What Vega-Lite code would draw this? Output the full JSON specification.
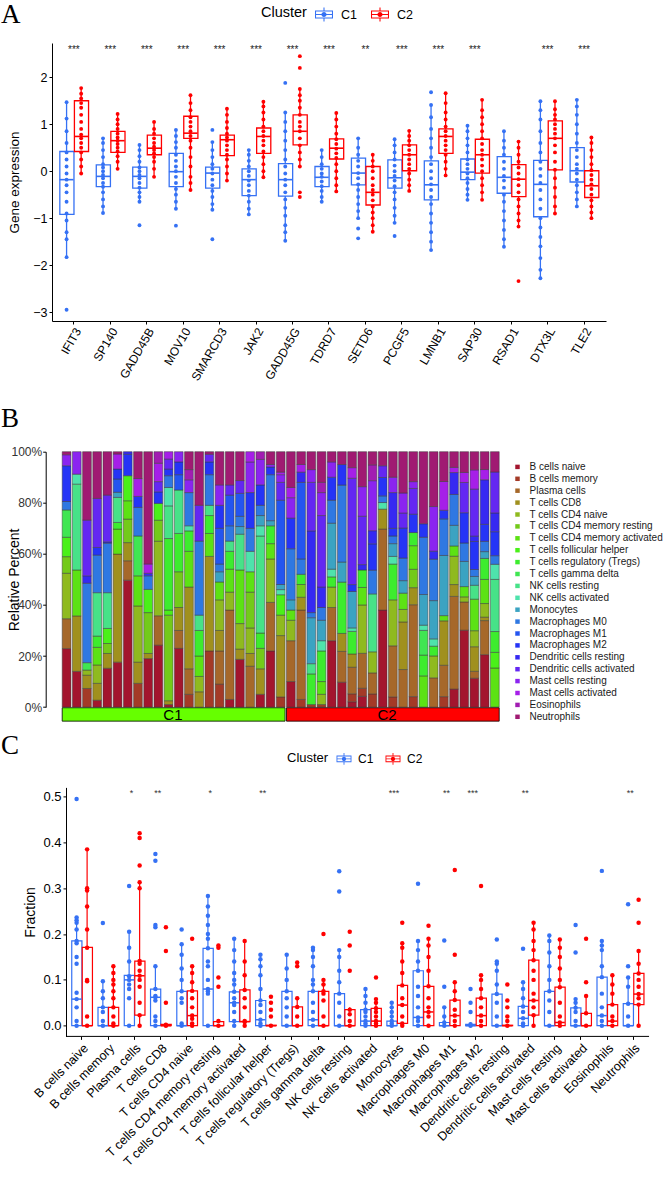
{
"$schema": "https://vega.github.io/schema/vega-lite/v6.json",
"padding": {"left": 1, "top": 1, "right": 0, "bottom": 0},
"background": "white",
"config": {
  "font": "Liberation Sans",
  "view": {"stroke": null},
  "axis": {"grid": false, "domainColor": "#000", "domainWidth": 1, "tickColor": "#000", "tickWidth": 1, "labelColor": "#000", "titleColor": "#000", "titleFontWeight": "normal", "labelFont": "Liberation Sans", "titleFont": "Liberation Sans"},
  "legend": {"labelFont": "Liberation Sans", "titleFont": "Liberation Sans", "titleFontWeight": "normal", "labelColor": "#000", "titleColor": "#000"},
  "title": {"font": "Liberation Serif", "fontSize": 27, "fontWeight": "normal", "anchor": "start", "frame": "group", "color": "#000", "offset": 0}
},
"datasets": {
  "cells": [{"k":1,"Cell":"B cells naive"},{"k":2,"Cell":"B cells memory"},{"k":3,"Cell":"Plasma cells"},{"k":4,"Cell":"T cells CD8"},{"k":5,"Cell":"T cells CD4 naive"},{"k":6,"Cell":"T cells CD4 memory resting"},{"k":7,"Cell":"T cells CD4 memory activated"},{"k":8,"Cell":"T cells follicular helper"},{"k":9,"Cell":"T cells regulatory (Tregs)"},{"k":10,"Cell":"T cells gamma delta"},{"k":11,"Cell":"NK cells resting"},{"k":12,"Cell":"NK cells activated"},{"k":13,"Cell":"Monocytes"},{"k":14,"Cell":"Macrophages M0"},{"k":15,"Cell":"Macrophages M1"},{"k":16,"Cell":"Macrophages M2"},{"k":17,"Cell":"Dendritic cells resting"},{"k":18,"Cell":"Dendritic cells activated"},{"k":19,"Cell":"Mast cells resting"},{"k":20,"Cell":"Mast cells activated"},{"k":21,"Cell":"Eosinophils"},{"k":22,"Cell":"Neutrophils"}],
  "grp": [{"Cluster":"C1","first":"S01","last":"S22","mid":"S11"},{"Cluster":"C2","first":"S23","last":"S43","mid":"S32"}],
  "axisC": [{"from":"B cells naive","to":"Neutrophils"}],
  "comp": [
{"s":"S01","k":1,"v":22.9},{"s":"S01","k":3,"v":11.7},{"s":"S01","k":5,"v":17.8},{"s":"S01","k":6,"v":6.5},{"s":"S01","k":8,"v":7.6},{"s":"S01","k":10,"v":10.7},{"s":"S01","k":14,"v":3.3},{"s":"S01","k":16,"v":14},{"s":"S01","k":19,"v":4.3},{"s":"S01","k":22,"v":1.2},
{"s":"S02","k":1,"v":14},{"s":"S02","k":4,"v":21.7},{"s":"S02","k":7,"v":18},{"s":"S02","k":11,"v":33.6},{"s":"S02","k":12,"v":3.9},{"s":"S02","k":19,"v":8.8},
{"s":"S03","k":2,"v":7.3},{"s":"S03","k":4,"v":5.2},{"s":"S03","k":5,"v":2},{"s":"S03","k":10,"v":2.9},{"s":"S03","k":14,"v":31.1},{"s":"S03","k":17,"v":2.9},{"s":"S03","k":18,"v":21.8},{"s":"S03","k":22,"v":26.8},
{"s":"S04","k":1,"v":2.7},{"s":"S04","k":4,"v":6.6},{"s":"S04","k":5,"v":7.2},{"s":"S04","k":7,"v":6.9},{"s":"S04","k":9,"v":4.4},{"s":"S04","k":11,"v":17},{"s":"S04","k":14,"v":14.7},{"s":"S04","k":16,"v":3},{"s":"S04","k":18,"v":19.2},{"s":"S04","k":22,"v":18.3},
{"s":"S05","k":1,"v":15.2},{"s":"S05","k":4,"v":5.8},{"s":"S05","k":6,"v":3.9},{"s":"S05","k":8,"v":5.9},{"s":"S05","k":11,"v":14},{"s":"S05","k":14,"v":19.4},{"s":"S05","k":17,"v":0.5},{"s":"S05","k":18,"v":18.3},{"s":"S05","k":22,"v":17},
{"s":"S06","k":1,"v":17.6},{"s":"S06","k":4,"v":42.3},{"s":"S06","k":7,"v":9.8},{"s":"S06","k":9,"v":2.6},{"s":"S06","k":11,"v":9.8},{"s":"S06","k":13,"v":2},{"s":"S06","k":15,"v":5.2},{"s":"S06","k":16,"v":3.9},{"s":"S06","k":20,"v":5.9},{"s":"S06","k":22,"v":0.9},
{"s":"S07","k":1,"v":49.7},{"s":"S07","k":3,"v":7.6},{"s":"S07","k":4,"v":7.1},{"s":"S07","k":6,"v":9.2},{"s":"S07","k":7,"v":7.2},{"s":"S07","k":8,"v":9.8},{"s":"S07","k":16,"v":8.4},{"s":"S07","k":17,"v":1},
{"s":"S08","k":2,"v":9.3},{"s":"S08","k":4,"v":8.3},{"s":"S08","k":5,"v":22},{"s":"S08","k":7,"v":11.8},{"s":"S08","k":10,"v":15.6},{"s":"S08","k":14,"v":11.2},{"s":"S08","k":16,"v":4.3},{"s":"S08","k":20,"v":7},{"s":"S08","k":22,"v":10.5},
{"s":"S09","k":1,"v":19},{"s":"S09","k":4,"v":2},{"s":"S09","k":6,"v":16},{"s":"S09","k":8,"v":9.1},{"s":"S09","k":14,"v":5.3},{"s":"S09","k":17,"v":1},{"s":"S09","k":20,"v":3.6},{"s":"S09","k":22,"v":44},
{"s":"S10","k":1,"v":23.6},{"s":"S10","k":3,"v":11.2},{"s":"S10","k":5,"v":28.4},{"s":"S10","k":6,"v":8},{"s":"S10","k":8,"v":6.4},{"s":"S10","k":16,"v":4.4},{"s":"S10","k":18,"v":3.9},{"s":"S10","k":20,"v":7},{"s":"S10","k":21,"v":4.4},
{"s":"S11","k":1,"v":1},{"s":"S11","k":4,"v":1.5},{"s":"S11","k":6,"v":33.5},{"s":"S11","k":8,"v":2},{"s":"S11","k":9,"v":28},{"s":"S11","k":11,"v":12.8},{"s":"S11","k":12,"v":7.2},{"s":"S11","k":14,"v":4.6},{"s":"S11","k":16,"v":2.6},{"s":"S11","k":18,"v":3.9},{"s":"S11","k":20,"v":2.9},
{"s":"S12","k":1,"v":23},{"s":"S12","k":3,"v":7},{"s":"S12","k":4,"v":9},{"s":"S12","k":6,"v":14},{"s":"S12","k":9,"v":15},{"s":"S12","k":11,"v":17},{"s":"S12","k":15,"v":6},{"s":"S12","k":16,"v":5},{"s":"S12","k":19,"v":4},
{"s":"S13","k":2,"v":5},{"s":"S13","k":3,"v":10},{"s":"S13","k":4,"v":32},{"s":"S13","k":7,"v":14},{"s":"S13","k":9,"v":8},{"s":"S13","k":12,"v":2},{"s":"S13","k":14,"v":13},{"s":"S13","k":19,"v":5},{"s":"S13","k":21,"v":4},{"s":"S13","k":22,"v":7},
{"s":"S14","k":4,"v":6},{"s":"S14","k":5,"v":6},{"s":"S14","k":7,"v":8},{"s":"S14","k":9,"v":10},{"s":"S14","k":11,"v":6},{"s":"S14","k":14,"v":29},{"s":"S14","k":18,"v":14},{"s":"S14","k":22,"v":21},
{"s":"S15","k":2,"v":22},{"s":"S15","k":4,"v":37},{"s":"S15","k":7,"v":9},{"s":"S15","k":9,"v":7},{"s":"S15","k":11,"v":4},{"s":"S15","k":14,"v":12},{"s":"S15","k":16,"v":5},{"s":"S15","k":18,"v":3},{"s":"S15","k":22,"v":1},
{"s":"S16","k":2,"v":9},{"s":"S16","k":3,"v":13},{"s":"S16","k":4,"v":8},{"s":"S16","k":5,"v":12},{"s":"S16","k":7,"v":7},{"s":"S16","k":13,"v":4},{"s":"S16","k":14,"v":3},{"s":"S16","k":15,"v":14},{"s":"S16","k":16,"v":9},{"s":"S16","k":19,"v":8},{"s":"S16","k":22,"v":13},
{"s":"S17","k":1,"v":3},{"s":"S17","k":3,"v":35},{"s":"S17","k":5,"v":7},{"s":"S17","k":7,"v":9},{"s":"S17","k":9,"v":7},{"s":"S17","k":11,"v":4},{"s":"S17","k":14,"v":6},{"s":"S17","k":15,"v":12},{"s":"S17","k":18,"v":4},{"s":"S17","k":22,"v":13},
{"s":"S18","k":1,"v":18.7},{"s":"S18","k":4,"v":4},{"s":"S18","k":5,"v":10},{"s":"S18","k":7,"v":21},{"s":"S18","k":11,"v":14},{"s":"S18","k":13,"v":3},{"s":"S18","k":14,"v":4},{"s":"S18","k":15,"v":9},{"s":"S18","k":18,"v":5},{"s":"S18","k":22,"v":11.3},
{"s":"S19","k":3,"v":16},{"s":"S19","k":4,"v":5},{"s":"S19","k":5,"v":10},{"s":"S19","k":6,"v":14},{"s":"S19","k":7,"v":8},{"s":"S19","k":12,"v":8},{"s":"S19","k":14,"v":9},{"s":"S19","k":16,"v":14},{"s":"S19","k":19,"v":12},{"s":"S19","k":20,"v":4},
{"s":"S20","k":1,"v":5},{"s":"S20","k":4,"v":10},{"s":"S20","k":6,"v":8},{"s":"S20","k":9,"v":6},{"s":"S20","k":11,"v":38},{"s":"S20","k":12,"v":4},{"s":"S20","k":13,"v":4},{"s":"S20","k":14,"v":4},{"s":"S20","k":16,"v":8},{"s":"S20","k":19,"v":10},{"s":"S20","k":21,"v":3},
{"s":"S21","k":1,"v":22},{"s":"S21","k":3,"v":19},{"s":"S21","k":5,"v":17},{"s":"S21","k":7,"v":6},{"s":"S21","k":9,"v":7},{"s":"S21","k":13,"v":2},{"s":"S21","k":14,"v":18},{"s":"S21","k":16,"v":3},{"s":"S21","k":19,"v":1},{"s":"S21","k":22,"v":5},
{"s":"S22","k":2,"v":4},{"s":"S22","k":4,"v":24},{"s":"S22","k":5,"v":8},{"s":"S22","k":8,"v":8},{"s":"S22","k":12,"v":2},{"s":"S22","k":13,"v":2},{"s":"S22","k":15,"v":33},{"s":"S22","k":18,"v":7},{"s":"S22","k":19,"v":3},{"s":"S22","k":20,"v":1},{"s":"S22","k":22,"v":8},
{"s":"S23","k":1,"v":10},{"s":"S23","k":3,"v":16},{"s":"S23","k":5,"v":8},{"s":"S23","k":7,"v":4},{"s":"S23","k":13,"v":4},{"s":"S23","k":14,"v":20},{"s":"S23","k":16,"v":12},{"s":"S23","k":19,"v":8},{"s":"S23","k":20,"v":4},{"s":"S23","k":22,"v":14},
{"s":"S24","k":2,"v":3},{"s":"S24","k":3,"v":35},{"s":"S24","k":4,"v":5},{"s":"S24","k":6,"v":5},{"s":"S24","k":9,"v":4},{"s":"S24","k":14,"v":6},{"s":"S24","k":15,"v":30},{"s":"S24","k":17,"v":4},{"s":"S24","k":20,"v":3},{"s":"S24","k":22,"v":5},
{"s":"S25","k":2,"v":1},{"s":"S25","k":9,"v":12},{"s":"S25","k":11,"v":4},{"s":"S25","k":13,"v":18},{"s":"S25","k":14,"v":2},{"s":"S25","k":17,"v":32},{"s":"S25","k":18,"v":19},{"s":"S25","k":19,"v":5},{"s":"S25","k":22,"v":7},
{"s":"S26","k":2,"v":1},{"s":"S26","k":5,"v":4},{"s":"S26","k":7,"v":5},{"s":"S26","k":9,"v":12},{"s":"S26","k":12,"v":4},{"s":"S26","k":13,"v":8},{"s":"S26","k":14,"v":5},{"s":"S26","k":17,"v":8},{"s":"S26","k":18,"v":28},{"s":"S26","k":19,"v":9},{"s":"S26","k":21,"v":4},{"s":"S26","k":22,"v":12},
{"s":"S27","k":1,"v":26},{"s":"S27","k":3,"v":13},{"s":"S27","k":5,"v":8},{"s":"S27","k":9,"v":4},{"s":"S27","k":12,"v":3},{"s":"S27","k":13,"v":18},{"s":"S27","k":14,"v":9},{"s":"S27","k":16,"v":9},{"s":"S27","k":19,"v":6},{"s":"S27","k":22,"v":4},
{"s":"S28","k":1,"v":9.7},{"s":"S28","k":3,"v":12},{"s":"S28","k":4,"v":7},{"s":"S28","k":9,"v":20},{"s":"S28","k":13,"v":7.8},{"s":"S28","k":14,"v":30},{"s":"S28","k":16,"v":8},{"s":"S28","k":22,"v":5},
{"s":"S29","k":1,"v":2},{"s":"S29","k":2,"v":3},{"s":"S29","k":3,"v":10},{"s":"S29","k":4,"v":5},{"s":"S29","k":9,"v":8.5},{"s":"S29","k":12,"v":1.3},{"s":"S29","k":13,"v":13.7},{"s":"S29","k":16,"v":2.6},{"s":"S29","k":18,"v":40},{"s":"S29","k":20,"v":4},{"s":"S29","k":22,"v":6},
{"s":"S30","k":1,"v":4},{"s":"S30","k":2,"v":3},{"s":"S30","k":3,"v":13},{"s":"S30","k":5,"v":18},{"s":"S30","k":7,"v":6.5},{"s":"S30","k":9,"v":6.5},{"s":"S30","k":17,"v":2},{"s":"S30","k":18,"v":18},{"s":"S30","k":19,"v":11},{"s":"S30","k":22,"v":13},
{"s":"S31","k":2,"v":5},{"s":"S31","k":3,"v":8},{"s":"S31","k":5,"v":8},{"s":"S31","k":11,"v":22},{"s":"S31","k":14,"v":9},{"s":"S31","k":16,"v":10},{"s":"S31","k":17,"v":5},{"s":"S31","k":19,"v":19},{"s":"S31","k":21,"v":6},{"s":"S31","k":22,"v":5},
{"s":"S32","k":1,"v":38},{"s":"S32","k":3,"v":31.7},{"s":"S32","k":4,"v":7.8},{"s":"S32","k":12,"v":2.6},{"s":"S32","k":14,"v":2.6},{"s":"S32","k":16,"v":7.2},{"s":"S32","k":18,"v":4.6},{"s":"S32","k":22,"v":5.5},
{"s":"S33","k":2,"v":4},{"s":"S33","k":3,"v":20},{"s":"S33","k":5,"v":18},{"s":"S33","k":9,"v":14},{"s":"S33","k":12,"v":3},{"s":"S33","k":13,"v":5},{"s":"S33","k":14,"v":3},{"s":"S33","k":16,"v":3},{"s":"S33","k":17,"v":14},{"s":"S33","k":19,"v":6},{"s":"S33","k":22,"v":10},
{"s":"S34","k":3,"v":15},{"s":"S34","k":4,"v":19},{"s":"S34","k":5,"v":5},{"s":"S34","k":7,"v":6.5},{"s":"S34","k":13,"v":5},{"s":"S34","k":14,"v":9},{"s":"S34","k":16,"v":12},{"s":"S34","k":18,"v":6},{"s":"S34","k":19,"v":8},{"s":"S34","k":22,"v":16.5},
{"s":"S35","k":2,"v":4},{"s":"S35","k":3,"v":35},{"s":"S35","k":4,"v":6.5},{"s":"S35","k":6,"v":7},{"s":"S35","k":7,"v":9},{"s":"S35","k":9,"v":5},{"s":"S35","k":16,"v":7},{"s":"S35","k":18,"v":9.8},{"s":"S35","k":19,"v":2.6},{"s":"S35","k":22,"v":11.4},
{"s":"S36","k":7,"v":12},{"s":"S36","k":9,"v":8},{"s":"S36","k":10,"v":9.5},{"s":"S36","k":12,"v":2},{"s":"S36","k":13,"v":11.8},{"s":"S36","k":14,"v":22},{"s":"S36","k":16,"v":5.2},{"s":"S36","k":22,"v":27.7},
{"s":"S37","k":3,"v":12},{"s":"S37","k":5,"v":9},{"s":"S37","k":9,"v":4},{"s":"S37","k":12,"v":3},{"s":"S37","k":13,"v":15.7},{"s":"S37","k":14,"v":17},{"s":"S37","k":17,"v":3.3},{"s":"S37","k":19,"v":18.3},{"s":"S37","k":22,"v":22.5},
{"s":"S38","k":2,"v":4},{"s":"S38","k":3,"v":12},{"s":"S38","k":4,"v":17},{"s":"S38","k":7,"v":2},{"s":"S38","k":13,"v":23},{"s":"S38","k":14,"v":14},{"s":"S38","k":16,"v":3.3},{"s":"S38","k":20,"v":11},{"s":"S38","k":22,"v":11.4},
{"s":"S39","k":1,"v":7},{"s":"S39","k":3,"v":36},{"s":"S39","k":4,"v":4.6},{"s":"S39","k":5,"v":11},{"s":"S39","k":7,"v":4},{"s":"S39","k":13,"v":8},{"s":"S39","k":14,"v":12},{"s":"S39","k":17,"v":8.5},{"s":"S39","k":20,"v":2},{"s":"S39","k":22,"v":6.1},
{"s":"S40","k":1,"v":30},{"s":"S40","k":3,"v":11},{"s":"S40","k":5,"v":2},{"s":"S40","k":7,"v":4},{"s":"S40","k":13,"v":9.8},{"s":"S40","k":14,"v":7.2},{"s":"S40","k":16,"v":11.8},{"s":"S40","k":18,"v":11.8},{"s":"S40","k":20,"v":3.9},{"s":"S40","k":22,"v":8.1},
{"s":"S41","k":1,"v":10.8},{"s":"S41","k":3,"v":2.6},{"s":"S41","k":4,"v":9.2},{"s":"S41","k":5,"v":6},{"s":"S41","k":7,"v":11.8},{"s":"S41","k":11,"v":5.2},{"s":"S41","k":13,"v":3.3},{"s":"S41","k":14,"v":2.6},{"s":"S41","k":16,"v":10.5},{"s":"S41","k":17,"v":2},{"s":"S41","k":18,"v":17.6},{"s":"S41","k":20,"v":7.2},{"s":"S41","k":22,"v":6.8},
{"s":"S42","k":1,"v":20},{"s":"S42","k":3,"v":13},{"s":"S42","k":4,"v":1.3},{"s":"S42","k":5,"v":5.2},{"s":"S42","k":7,"v":9.2},{"s":"S42","k":9,"v":8},{"s":"S42","k":13,"v":2.6},{"s":"S42","k":14,"v":3.9},{"s":"S42","k":16,"v":6.5},{"s":"S42","k":17,"v":17},{"s":"S42","k":20,"v":3.9},{"s":"S42","k":22,"v":6.8},
{"s":"S43","k":7,"v":15},{"s":"S43","k":8,"v":6},{"s":"S43","k":9,"v":8},{"s":"S43","k":11,"v":20},{"s":"S43","k":12,"v":5.8},{"s":"S43","k":14,"v":3.3},{"s":"S43","k":16,"v":9.2},{"s":"S43","k":17,"v":7.2},{"s":"S43","k":18,"v":15.7},{"s":"S43","k":22,"v":7.8}
  ],
  "boxA": [
{"g":"IFIT3","c":"C1","lo":-1.83,"q1":-0.92,"md":-0.18,"q3":0.42,"hi":1.47},{"g":"IFIT3","c":"C2","lo":-0.05,"q1":0.42,"md":0.74,"q3":1.5,"hi":1.77},
{"g":"SP140","c":"C1","lo":-0.89,"q1":-0.33,"md":-0.11,"q3":0.135,"hi":0.7},{"g":"SP140","c":"C2","lo":0.05,"q1":0.4,"md":0.65,"q3":0.85,"hi":1.22},
{"g":"GADD45B","c":"C1","lo":-0.65,"q1":-0.36,"md":-0.11,"q3":0.085,"hi":0.56},{"g":"GADD45B","c":"C2","lo":-0.12,"q1":0.35,"md":0.49,"q3":0.77,"hi":1.05},
{"g":"MOV10","c":"C1","lo":-0.8,"q1":-0.33,"md":-0.01,"q3":0.38,"hi":0.88},{"g":"MOV10","c":"C2","lo":-0.4,"q1":0.7,"md":0.81,"q3":1.17,"hi":1.62},
{"g":"SMARCD3","c":"C1","lo":-0.82,"q1":-0.36,"md":-0.04,"q3":0.085,"hi":0.62},{"g":"SMARCD3","c":"C2","lo":-0.2,"q1":0.33,"md":0.67,"q3":0.77,"hi":1.33},
{"g":"JAK2","c":"C1","lo":-0.92,"q1":-0.52,"md":-0.18,"q3":0.05,"hi":0.45},{"g":"JAK2","c":"C2","lo":-0.13,"q1":0.38,"md":0.74,"q3":0.92,"hi":1.48},
{"g":"GADD45G","c":"C1","lo":-1.48,"q1":-0.53,"md":-0.18,"q3":0.16,"hi":1.25},{"g":"GADD45G","c":"C2","lo":0.1,"q1":0.56,"md":0.85,"q3":1.2,"hi":1.75},
{"g":"TDRD7","c":"C1","lo":-0.65,"q1":-0.33,"md":-0.13,"q3":0.1,"hi":0.45},{"g":"TDRD7","c":"C2","lo":-0.43,"q1":0.26,"md":0.49,"q3":0.69,"hi":1.24},
{"g":"SETD6","c":"C1","lo":-1.0,"q1":-0.29,"md":-0.04,"q3":0.28,"hi":0.7},{"g":"SETD6","c":"C2","lo":-1.29,"q1":-0.72,"md":-0.45,"q3":0.1,"hi":0.35},
{"g":"PCGF5","c":"C1","lo":-1.1,"q1":-0.36,"md":-0.14,"q3":0.24,"hi":0.68},{"g":"PCGF5","c":"C2","lo":-0.42,"q1":0.01,"md":0.35,"q3":0.56,"hi":0.86},
{"g":"LMNB1","c":"C1","lo":-1.68,"q1":-0.61,"md":-0.29,"q3":0.22,"hi":1.41},{"g":"LMNB1","c":"C2","lo":-0.09,"q1":0.38,"md":0.74,"q3":0.9,"hi":1.66},
{"g":"SAP30","c":"C1","lo":-0.61,"q1":-0.18,"md":-0.02,"q3":0.26,"hi":0.97},{"g":"SAP30","c":"C2","lo":-0.61,"q1":-0.04,"md":0.35,"q3":0.68,"hi":1.52},
{"g":"RSAD1","c":"C1","lo":-1.61,"q1":-0.47,"md":-0.13,"q3":0.31,"hi":0.85},{"g":"RSAD1","c":"C2","lo":-1.18,"q1":-0.54,"md":-0.17,"q3":0.14,"hi":0.63},
{"g":"DTX3L","c":"C1","lo":-2.28,"q1":-0.97,"md":-0.28,"q3":0.23,"hi":1.49},{"g":"DTX3L","c":"C2","lo":-0.9,"q1":0.03,"md":0.7,"q3":1.07,"hi":1.49},
{"g":"TLE2","c":"C1","lo":-0.75,"q1":-0.23,"md":0.01,"q3":0.5,"hi":1.52},{"g":"TLE2","c":"C2","lo":-1.0,"q1":-0.56,"md":-0.31,"q3":0.01,"hi":0.72}
  ],
  "starA": [{"g":"IFIT3","s":"***"},{"g":"SP140","s":"***"},{"g":"GADD45B","s":"***"},{"g":"MOV10","s":"***"},{"g":"SMARCD3","s":"***"},{"g":"JAK2","s":"***"},{"g":"GADD45G","s":"***"},{"g":"TDRD7","s":"***"},{"g":"SETD6","s":"**"},{"g":"PCGF5","s":"***"},{"g":"LMNB1","s":"***"},{"g":"SAP30","s":"***"},{"g":"DTX3L","s":"***"},{"g":"TLE2","s":"***"}],
  "ptsA": [
{"g":"IFIT3","c":"C1","v":-2.95},{"g":"IFIT3","c":"C1","v":-1.83},{"g":"IFIT3","c":"C1","v":-1.45},{"g":"IFIT3","c":"C1","v":-1.3},{"g":"IFIT3","c":"C1","v":-1.05},{"g":"IFIT3","c":"C1","v":-0.9},{"g":"IFIT3","c":"C1","v":-0.65},{"g":"IFIT3","c":"C1","v":-0.45},{"g":"IFIT3","c":"C1","v":-0.3},{"g":"IFIT3","c":"C1","v":-0.18},{"g":"IFIT3","c":"C1","v":-0.05},{"g":"IFIT3","c":"C1","v":0.1},{"g":"IFIT3","c":"C1","v":0.25},{"g":"IFIT3","c":"C1","v":0.4},{"g":"IFIT3","c":"C1","v":0.6},{"g":"IFIT3","c":"C1","v":0.85},{"g":"IFIT3","c":"C1","v":1.12},{"g":"IFIT3","c":"C1","v":1.47},
{"g":"IFIT3","c":"C2","v":-0.05},{"g":"IFIT3","c":"C2","v":0.1},{"g":"IFIT3","c":"C2","v":0.25},{"g":"IFIT3","c":"C2","v":0.4},{"g":"IFIT3","c":"C2","v":0.5},{"g":"IFIT3","c":"C2","v":0.6},{"g":"IFIT3","c":"C2","v":0.7},{"g":"IFIT3","c":"C2","v":0.78},{"g":"IFIT3","c":"C2","v":0.9},{"g":"IFIT3","c":"C2","v":1.05},{"g":"IFIT3","c":"C2","v":1.2},{"g":"IFIT3","c":"C2","v":1.35},{"g":"IFIT3","c":"C2","v":1.45},{"g":"IFIT3","c":"C2","v":1.55},{"g":"IFIT3","c":"C2","v":1.65},{"g":"IFIT3","c":"C2","v":1.77},
{"g":"SP140","c":"C1","v":-0.89},{"g":"SP140","c":"C1","v":-0.75},{"g":"SP140","c":"C1","v":-0.6},{"g":"SP140","c":"C1","v":-0.45},{"g":"SP140","c":"C1","v":-0.33},{"g":"SP140","c":"C1","v":-0.25},{"g":"SP140","c":"C1","v":-0.15},{"g":"SP140","c":"C1","v":-0.08},{"g":"SP140","c":"C1","v":0},{"g":"SP140","c":"C1","v":0.08},{"g":"SP140","c":"C1","v":0.15},{"g":"SP140","c":"C1","v":0.3},{"g":"SP140","c":"C1","v":0.45},{"g":"SP140","c":"C1","v":0.6},{"g":"SP140","c":"C1","v":0.7},
{"g":"SP140","c":"C2","v":0.05},{"g":"SP140","c":"C2","v":0.2},{"g":"SP140","c":"C2","v":0.32},{"g":"SP140","c":"C2","v":0.42},{"g":"SP140","c":"C2","v":0.5},{"g":"SP140","c":"C2","v":0.58},{"g":"SP140","c":"C2","v":0.65},{"g":"SP140","c":"C2","v":0.72},{"g":"SP140","c":"C2","v":0.8},{"g":"SP140","c":"C2","v":0.9},{"g":"SP140","c":"C2","v":1.0},{"g":"SP140","c":"C2","v":1.1},{"g":"SP140","c":"C2","v":1.22},
{"g":"GADD45B","c":"C1","v":-1.15},{"g":"GADD45B","c":"C1","v":-0.65},{"g":"GADD45B","c":"C1","v":-0.55},{"g":"GADD45B","c":"C1","v":-0.45},{"g":"GADD45B","c":"C1","v":-0.35},{"g":"GADD45B","c":"C1","v":-0.25},{"g":"GADD45B","c":"C1","v":-0.15},{"g":"GADD45B","c":"C1","v":-0.08},{"g":"GADD45B","c":"C1","v":0},{"g":"GADD45B","c":"C1","v":0.08},{"g":"GADD45B","c":"C1","v":0.2},{"g":"GADD45B","c":"C1","v":0.32},{"g":"GADD45B","c":"C1","v":0.45},{"g":"GADD45B","c":"C1","v":0.56},
{"g":"GADD45B","c":"C2","v":-0.12},{"g":"GADD45B","c":"C2","v":0.05},{"g":"GADD45B","c":"C2","v":0.2},{"g":"GADD45B","c":"C2","v":0.3},{"g":"GADD45B","c":"C2","v":0.38},{"g":"GADD45B","c":"C2","v":0.45},{"g":"GADD45B","c":"C2","v":0.52},{"g":"GADD45B","c":"C2","v":0.6},{"g":"GADD45B","c":"C2","v":0.7},{"g":"GADD45B","c":"C2","v":0.8},{"g":"GADD45B","c":"C2","v":0.9},{"g":"GADD45B","c":"C2","v":1.05},
{"g":"MOV10","c":"C1","v":-1.16},{"g":"MOV10","c":"C1","v":-0.8},{"g":"MOV10","c":"C1","v":-0.65},{"g":"MOV10","c":"C1","v":-0.5},{"g":"MOV10","c":"C1","v":-0.38},{"g":"MOV10","c":"C1","v":-0.25},{"g":"MOV10","c":"C1","v":-0.12},{"g":"MOV10","c":"C1","v":0},{"g":"MOV10","c":"C1","v":0.1},{"g":"MOV10","c":"C1","v":0.22},{"g":"MOV10","c":"C1","v":0.35},{"g":"MOV10","c":"C1","v":0.5},{"g":"MOV10","c":"C1","v":0.62},{"g":"MOV10","c":"C1","v":0.75},{"g":"MOV10","c":"C1","v":0.88},
{"g":"MOV10","c":"C2","v":-0.4},{"g":"MOV10","c":"C2","v":-0.25},{"g":"MOV10","c":"C2","v":-0.12},{"g":"MOV10","c":"C2","v":0.1},{"g":"MOV10","c":"C2","v":0.3},{"g":"MOV10","c":"C2","v":0.5},{"g":"MOV10","c":"C2","v":0.65},{"g":"MOV10","c":"C2","v":0.75},{"g":"MOV10","c":"C2","v":0.85},{"g":"MOV10","c":"C2","v":0.95},{"g":"MOV10","c":"C2","v":1.05},{"g":"MOV10","c":"C2","v":1.15},{"g":"MOV10","c":"C2","v":1.3},{"g":"MOV10","c":"C2","v":1.45},{"g":"MOV10","c":"C2","v":1.62},
{"g":"SMARCD3","c":"C1","v":-1.45},{"g":"SMARCD3","c":"C1","v":-0.82},{"g":"SMARCD3","c":"C1","v":-0.7},{"g":"SMARCD3","c":"C1","v":-0.55},{"g":"SMARCD3","c":"C1","v":-0.42},{"g":"SMARCD3","c":"C1","v":-0.3},{"g":"SMARCD3","c":"C1","v":-0.18},{"g":"SMARCD3","c":"C1","v":-0.05},{"g":"SMARCD3","c":"C1","v":0.05},{"g":"SMARCD3","c":"C1","v":0.15},{"g":"SMARCD3","c":"C1","v":0.3},{"g":"SMARCD3","c":"C1","v":0.45},{"g":"SMARCD3","c":"C1","v":0.62},{"g":"SMARCD3","c":"C1","v":0.88},
{"g":"SMARCD3","c":"C2","v":-0.2},{"g":"SMARCD3","c":"C2","v":-0.05},{"g":"SMARCD3","c":"C2","v":0.1},{"g":"SMARCD3","c":"C2","v":0.25},{"g":"SMARCD3","c":"C2","v":0.35},{"g":"SMARCD3","c":"C2","v":0.45},{"g":"SMARCD3","c":"C2","v":0.55},{"g":"SMARCD3","c":"C2","v":0.65},{"g":"SMARCD3","c":"C2","v":0.72},{"g":"SMARCD3","c":"C2","v":0.8},{"g":"SMARCD3","c":"C2","v":0.92},{"g":"SMARCD3","c":"C2","v":1.05},{"g":"SMARCD3","c":"C2","v":1.2},{"g":"SMARCD3","c":"C2","v":1.33},
{"g":"JAK2","c":"C1","v":-0.92},{"g":"JAK2","c":"C1","v":-0.8},{"g":"JAK2","c":"C1","v":-0.65},{"g":"JAK2","c":"C1","v":-0.52},{"g":"JAK2","c":"C1","v":-0.42},{"g":"JAK2","c":"C1","v":-0.3},{"g":"JAK2","c":"C1","v":-0.2},{"g":"JAK2","c":"C1","v":-0.1},{"g":"JAK2","c":"C1","v":0},{"g":"JAK2","c":"C1","v":0.1},{"g":"JAK2","c":"C1","v":0.22},{"g":"JAK2","c":"C1","v":0.35},{"g":"JAK2","c":"C1","v":0.45},
{"g":"JAK2","c":"C2","v":-0.13},{"g":"JAK2","c":"C2","v":0},{"g":"JAK2","c":"C2","v":0.15},{"g":"JAK2","c":"C2","v":0.3},{"g":"JAK2","c":"C2","v":0.42},{"g":"JAK2","c":"C2","v":0.55},{"g":"JAK2","c":"C2","v":0.65},{"g":"JAK2","c":"C2","v":0.75},{"g":"JAK2","c":"C2","v":0.85},{"g":"JAK2","c":"C2","v":0.95},{"g":"JAK2","c":"C2","v":1.1},{"g":"JAK2","c":"C2","v":1.25},{"g":"JAK2","c":"C2","v":1.38},{"g":"JAK2","c":"C2","v":1.48},
{"g":"GADD45G","c":"C1","v":-1.48},{"g":"GADD45G","c":"C1","v":-1.3},{"g":"GADD45G","c":"C1","v":-1.15},{"g":"GADD45G","c":"C1","v":-0.95},{"g":"GADD45G","c":"C1","v":-0.78},{"g":"GADD45G","c":"C1","v":-0.6},{"g":"GADD45G","c":"C1","v":-0.45},{"g":"GADD45G","c":"C1","v":-0.3},{"g":"GADD45G","c":"C1","v":-0.18},{"g":"GADD45G","c":"C1","v":-0.05},{"g":"GADD45G","c":"C1","v":0.1},{"g":"GADD45G","c":"C1","v":0.25},{"g":"GADD45G","c":"C1","v":0.45},{"g":"GADD45G","c":"C1","v":0.65},{"g":"GADD45G","c":"C1","v":0.85},{"g":"GADD45G","c":"C1","v":1.05},{"g":"GADD45G","c":"C1","v":1.25},{"g":"GADD45G","c":"C1","v":1.88},
{"g":"GADD45G","c":"C2","v":-0.55},{"g":"GADD45G","c":"C2","v":-0.45},{"g":"GADD45G","c":"C2","v":0.1},{"g":"GADD45G","c":"C2","v":0.25},{"g":"GADD45G","c":"C2","v":0.4},{"g":"GADD45G","c":"C2","v":0.55},{"g":"GADD45G","c":"C2","v":0.7},{"g":"GADD45G","c":"C2","v":0.85},{"g":"GADD45G","c":"C2","v":0.95},{"g":"GADD45G","c":"C2","v":1.05},{"g":"GADD45G","c":"C2","v":1.2},{"g":"GADD45G","c":"C2","v":1.35},{"g":"GADD45G","c":"C2","v":1.5},{"g":"GADD45G","c":"C2","v":1.62},{"g":"GADD45G","c":"C2","v":1.75},{"g":"GADD45G","c":"C2","v":2.2},{"g":"GADD45G","c":"C2","v":2.45},
{"g":"TDRD7","c":"C1","v":-0.65},{"g":"TDRD7","c":"C1","v":-0.55},{"g":"TDRD7","c":"C1","v":-0.42},{"g":"TDRD7","c":"C1","v":-0.32},{"g":"TDRD7","c":"C1","v":-0.22},{"g":"TDRD7","c":"C1","v":-0.12},{"g":"TDRD7","c":"C1","v":-0.05},{"g":"TDRD7","c":"C1","v":0.05},{"g":"TDRD7","c":"C1","v":0.15},{"g":"TDRD7","c":"C1","v":0.3},{"g":"TDRD7","c":"C1","v":0.45},
{"g":"TDRD7","c":"C2","v":-0.43},{"g":"TDRD7","c":"C2","v":-0.3},{"g":"TDRD7","c":"C2","v":-0.15},{"g":"TDRD7","c":"C2","v":0},{"g":"TDRD7","c":"C2","v":0.15},{"g":"TDRD7","c":"C2","v":0.28},{"g":"TDRD7","c":"C2","v":0.38},{"g":"TDRD7","c":"C2","v":0.48},{"g":"TDRD7","c":"C2","v":0.58},{"g":"TDRD7","c":"C2","v":0.68},{"g":"TDRD7","c":"C2","v":0.8},{"g":"TDRD7","c":"C2","v":0.95},{"g":"TDRD7","c":"C2","v":1.1},{"g":"TDRD7","c":"C2","v":1.24},
{"g":"SETD6","c":"C1","v":-1.43},{"g":"SETD6","c":"C1","v":-1.22},{"g":"SETD6","c":"C1","v":-1.0},{"g":"SETD6","c":"C1","v":-0.85},{"g":"SETD6","c":"C1","v":-0.7},{"g":"SETD6","c":"C1","v":-0.55},{"g":"SETD6","c":"C1","v":-0.4},{"g":"SETD6","c":"C1","v":-0.28},{"g":"SETD6","c":"C1","v":-0.15},{"g":"SETD6","c":"C1","v":-0.04},{"g":"SETD6","c":"C1","v":0.1},{"g":"SETD6","c":"C1","v":0.22},{"g":"SETD6","c":"C1","v":0.35},{"g":"SETD6","c":"C1","v":0.5},{"g":"SETD6","c":"C1","v":0.7},
{"g":"SETD6","c":"C2","v":-1.29},{"g":"SETD6","c":"C2","v":-1.15},{"g":"SETD6","c":"C2","v":-1.0},{"g":"SETD6","c":"C2","v":-0.88},{"g":"SETD6","c":"C2","v":-0.75},{"g":"SETD6","c":"C2","v":-0.62},{"g":"SETD6","c":"C2","v":-0.5},{"g":"SETD6","c":"C2","v":-0.4},{"g":"SETD6","c":"C2","v":-0.3},{"g":"SETD6","c":"C2","v":-0.15},{"g":"SETD6","c":"C2","v":0},{"g":"SETD6","c":"C2","v":0.1},{"g":"SETD6","c":"C2","v":0.22},{"g":"SETD6","c":"C2","v":0.35},
{"g":"PCGF5","c":"C1","v":-1.38},{"g":"PCGF5","c":"C1","v":-1.1},{"g":"PCGF5","c":"C1","v":-0.95},{"g":"PCGF5","c":"C1","v":-0.78},{"g":"PCGF5","c":"C1","v":-0.6},{"g":"PCGF5","c":"C1","v":-0.45},{"g":"PCGF5","c":"C1","v":-0.32},{"g":"PCGF5","c":"C1","v":-0.2},{"g":"PCGF5","c":"C1","v":-0.1},{"g":"PCGF5","c":"C1","v":0},{"g":"PCGF5","c":"C1","v":0.12},{"g":"PCGF5","c":"C1","v":0.25},{"g":"PCGF5","c":"C1","v":0.4},{"g":"PCGF5","c":"C1","v":0.55},{"g":"PCGF5","c":"C1","v":0.68},
{"g":"PCGF5","c":"C2","v":-0.42},{"g":"PCGF5","c":"C2","v":-0.3},{"g":"PCGF5","c":"C2","v":-0.18},{"g":"PCGF5","c":"C2","v":-0.05},{"g":"PCGF5","c":"C2","v":0.05},{"g":"PCGF5","c":"C2","v":0.15},{"g":"PCGF5","c":"C2","v":0.25},{"g":"PCGF5","c":"C2","v":0.35},{"g":"PCGF5","c":"C2","v":0.45},{"g":"PCGF5","c":"C2","v":0.55},{"g":"PCGF5","c":"C2","v":0.65},{"g":"PCGF5","c":"C2","v":0.75},{"g":"PCGF5","c":"C2","v":0.86},
{"g":"LMNB1","c":"C1","v":-1.68},{"g":"LMNB1","c":"C1","v":-1.5},{"g":"LMNB1","c":"C1","v":-1.3},{"g":"LMNB1","c":"C1","v":-1.1},{"g":"LMNB1","c":"C1","v":-0.9},{"g":"LMNB1","c":"C1","v":-0.7},{"g":"LMNB1","c":"C1","v":-0.55},{"g":"LMNB1","c":"C1","v":-0.4},{"g":"LMNB1","c":"C1","v":-0.28},{"g":"LMNB1","c":"C1","v":-0.15},{"g":"LMNB1","c":"C1","v":0},{"g":"LMNB1","c":"C1","v":0.15},{"g":"LMNB1","c":"C1","v":0.3},{"g":"LMNB1","c":"C1","v":0.5},{"g":"LMNB1","c":"C1","v":0.7},{"g":"LMNB1","c":"C1","v":0.9},{"g":"LMNB1","c":"C1","v":1.15},{"g":"LMNB1","c":"C1","v":1.41},{"g":"LMNB1","c":"C1","v":1.68},
{"g":"LMNB1","c":"C2","v":-0.09},{"g":"LMNB1","c":"C2","v":0.05},{"g":"LMNB1","c":"C2","v":0.2},{"g":"LMNB1","c":"C2","v":0.35},{"g":"LMNB1","c":"C2","v":0.45},{"g":"LMNB1","c":"C2","v":0.55},{"g":"LMNB1","c":"C2","v":0.65},{"g":"LMNB1","c":"C2","v":0.75},{"g":"LMNB1","c":"C2","v":0.85},{"g":"LMNB1","c":"C2","v":0.95},{"g":"LMNB1","c":"C2","v":1.1},{"g":"LMNB1","c":"C2","v":1.25},{"g":"LMNB1","c":"C2","v":1.45},{"g":"LMNB1","c":"C2","v":1.66},
{"g":"SAP30","c":"C1","v":-0.61},{"g":"SAP30","c":"C1","v":-0.5},{"g":"SAP30","c":"C1","v":-0.38},{"g":"SAP30","c":"C1","v":-0.25},{"g":"SAP30","c":"C1","v":-0.15},{"g":"SAP30","c":"C1","v":-0.05},{"g":"SAP30","c":"C1","v":0.05},{"g":"SAP30","c":"C1","v":0.15},{"g":"SAP30","c":"C1","v":0.25},{"g":"SAP30","c":"C1","v":0.4},{"g":"SAP30","c":"C1","v":0.55},{"g":"SAP30","c":"C1","v":0.7},{"g":"SAP30","c":"C1","v":0.85},{"g":"SAP30","c":"C1","v":0.97},
{"g":"SAP30","c":"C2","v":-0.61},{"g":"SAP30","c":"C2","v":-0.45},{"g":"SAP30","c":"C2","v":-0.3},{"g":"SAP30","c":"C2","v":-0.15},{"g":"SAP30","c":"C2","v":0},{"g":"SAP30","c":"C2","v":0.12},{"g":"SAP30","c":"C2","v":0.25},{"g":"SAP30","c":"C2","v":0.35},{"g":"SAP30","c":"C2","v":0.45},{"g":"SAP30","c":"C2","v":0.58},{"g":"SAP30","c":"C2","v":0.7},{"g":"SAP30","c":"C2","v":0.85},{"g":"SAP30","c":"C2","v":1.0},{"g":"SAP30","c":"C2","v":1.15},{"g":"SAP30","c":"C2","v":1.3},{"g":"SAP30","c":"C2","v":1.52},
{"g":"RSAD1","c":"C1","v":-1.61},{"g":"RSAD1","c":"C1","v":-1.45},{"g":"RSAD1","c":"C1","v":-1.25},{"g":"RSAD1","c":"C1","v":-1.05},{"g":"RSAD1","c":"C1","v":-0.85},{"g":"RSAD1","c":"C1","v":-0.65},{"g":"RSAD1","c":"C1","v":-0.5},{"g":"RSAD1","c":"C1","v":-0.35},{"g":"RSAD1","c":"C1","v":-0.2},{"g":"RSAD1","c":"C1","v":-0.1},{"g":"RSAD1","c":"C1","v":0.05},{"g":"RSAD1","c":"C1","v":0.2},{"g":"RSAD1","c":"C1","v":0.35},{"g":"RSAD1","c":"C1","v":0.5},{"g":"RSAD1","c":"C1","v":0.65},{"g":"RSAD1","c":"C1","v":0.85},
{"g":"RSAD1","c":"C2","v":-2.34},{"g":"RSAD1","c":"C2","v":-1.18},{"g":"RSAD1","c":"C2","v":-1.05},{"g":"RSAD1","c":"C2","v":-0.9},{"g":"RSAD1","c":"C2","v":-0.75},{"g":"RSAD1","c":"C2","v":-0.6},{"g":"RSAD1","c":"C2","v":-0.45},{"g":"RSAD1","c":"C2","v":-0.3},{"g":"RSAD1","c":"C2","v":-0.17},{"g":"RSAD1","c":"C2","v":-0.05},{"g":"RSAD1","c":"C2","v":0.08},{"g":"RSAD1","c":"C2","v":0.2},{"g":"RSAD1","c":"C2","v":0.35},{"g":"RSAD1","c":"C2","v":0.5},{"g":"RSAD1","c":"C2","v":0.63},
{"g":"DTX3L","c":"C1","v":-2.28},{"g":"DTX3L","c":"C1","v":-2.1},{"g":"DTX3L","c":"C1","v":-1.85},{"g":"DTX3L","c":"C1","v":-1.6},{"g":"DTX3L","c":"C1","v":-1.4},{"g":"DTX3L","c":"C1","v":-1.2},{"g":"DTX3L","c":"C1","v":-1.0},{"g":"DTX3L","c":"C1","v":-0.8},{"g":"DTX3L","c":"C1","v":-0.6},{"g":"DTX3L","c":"C1","v":-0.4},{"g":"DTX3L","c":"C1","v":-0.25},{"g":"DTX3L","c":"C1","v":-0.1},{"g":"DTX3L","c":"C1","v":0.05},{"g":"DTX3L","c":"C1","v":0.2},{"g":"DTX3L","c":"C1","v":0.4},{"g":"DTX3L","c":"C1","v":0.6},{"g":"DTX3L","c":"C1","v":0.85},{"g":"DTX3L","c":"C1","v":1.1},{"g":"DTX3L","c":"C1","v":1.3},{"g":"DTX3L","c":"C1","v":1.49},
{"g":"DTX3L","c":"C2","v":-0.9},{"g":"DTX3L","c":"C2","v":-0.75},{"g":"DTX3L","c":"C2","v":-0.55},{"g":"DTX3L","c":"C2","v":-0.35},{"g":"DTX3L","c":"C2","v":-0.15},{"g":"DTX3L","c":"C2","v":0.03},{"g":"DTX3L","c":"C2","v":0.2},{"g":"DTX3L","c":"C2","v":0.4},{"g":"DTX3L","c":"C2","v":0.55},{"g":"DTX3L","c":"C2","v":0.7},{"g":"DTX3L","c":"C2","v":0.8},{"g":"DTX3L","c":"C2","v":0.9},{"g":"DTX3L","c":"C2","v":1.0},{"g":"DTX3L","c":"C2","v":1.1},{"g":"DTX3L","c":"C2","v":1.2},{"g":"DTX3L","c":"C2","v":1.32},{"g":"DTX3L","c":"C2","v":1.49},
{"g":"TLE2","c":"C1","v":-0.75},{"g":"TLE2","c":"C1","v":-0.6},{"g":"TLE2","c":"C1","v":-0.45},{"g":"TLE2","c":"C1","v":-0.3},{"g":"TLE2","c":"C1","v":-0.18},{"g":"TLE2","c":"C1","v":-0.05},{"g":"TLE2","c":"C1","v":0.05},{"g":"TLE2","c":"C1","v":0.15},{"g":"TLE2","c":"C1","v":0.3},{"g":"TLE2","c":"C1","v":0.45},{"g":"TLE2","c":"C1","v":0.6},{"g":"TLE2","c":"C1","v":0.8},{"g":"TLE2","c":"C1","v":1.0},{"g":"TLE2","c":"C1","v":1.2},{"g":"TLE2","c":"C1","v":1.38},{"g":"TLE2","c":"C1","v":1.52},
{"g":"TLE2","c":"C2","v":-1.0},{"g":"TLE2","c":"C2","v":-0.88},{"g":"TLE2","c":"C2","v":-0.75},{"g":"TLE2","c":"C2","v":-0.62},{"g":"TLE2","c":"C2","v":-0.5},{"g":"TLE2","c":"C2","v":-0.38},{"g":"TLE2","c":"C2","v":-0.28},{"g":"TLE2","c":"C2","v":-0.18},{"g":"TLE2","c":"C2","v":-0.08},{"g":"TLE2","c":"C2","v":0.02},{"g":"TLE2","c":"C2","v":0.15},{"g":"TLE2","c":"C2","v":0.3},{"g":"TLE2","c":"C2","v":0.45},{"g":"TLE2","c":"C2","v":0.6},{"g":"TLE2","c":"C2","v":0.72}
  ],
  "boxC": [
{"k":1,"c":"C1","lo":0,"q1":0,"md":0.058,"q3":0.185,"hi":0.236},{"k":1,"c":"C2","lo":0,"q1":0,"md":0,"q3":0.171,"hi":0.385},
{"k":2,"c":"C1","lo":0,"q1":0,"md":0,"q3":0.04,"hi":0.097},{"k":2,"c":"C2","lo":0,"q1":0,"md":0,"q3":0.04,"hi":0.13},
{"k":3,"c":"C1","lo":0,"q1":0,"md":0.1,"q3":0.11,"hi":0.205},{"k":3,"c":"C2","lo":0,"q1":0.023,"md":0.109,"q3":0.141,"hi":0.313},
{"k":4,"c":"C1","lo":0,"q1":0,"md":0.062,"q3":0.08,"hi":0.13},{"k":4,"c":"C2","lo":0,"q1":0,"md":0,"q3":0.003,"hi":0.003},
{"k":5,"c":"C1","lo":0,"q1":0,"md":0,"q3":0.075,"hi":0.178},{"k":5,"c":"C2","lo":0,"q1":0,"md":0.022,"q3":0.076,"hi":0.13},
{"k":6,"c":"C1","lo":0,"q1":0,"md":0.08,"q3":0.169,"hi":0.283},{"k":6,"c":"C2","lo":0,"q1":0,"md":0,"q3":0.009,"hi":0.009},
{"k":7,"c":"C1","lo":0,"q1":0.009,"md":0.05,"q3":0.074,"hi":0.19},{"k":7,"c":"C2","lo":0,"q1":0.009,"md":0.009,"q3":0.078,"hi":0.185},
{"k":8,"c":"C1","lo":0,"q1":0,"md":0.013,"q3":0.055,"hi":0.155},{"k":8,"c":"C2","lo":0,"q1":0,"md":0,"q3":0.001,"hi":0.001},
{"k":9,"c":"C1","lo":0,"q1":0,"md":0,"q3":0.075,"hi":0.155},{"k":9,"c":"C2","lo":0,"q1":0,"md":0,"q3":0.041,"hi":0.06},
{"k":10,"c":"C1","lo":0,"q1":0,"md":0.013,"q3":0.075,"hi":0.17},{"k":10,"c":"C2","lo":0,"q1":0,"md":0,"q3":0.075,"hi":0.1},
{"k":11,"c":"C1","lo":0,"q1":0,"md":0,"q3":0.07,"hi":0.165},{"k":11,"c":"C2","lo":0,"q1":0,"md":0,"q3":0.035,"hi":0.04},
{"k":12,"c":"C1","lo":0,"q1":0,"md":0.01,"q3":0.035,"hi":0.08},{"k":12,"c":"C2","lo":0,"q1":0,"md":0.01,"q3":0.038,"hi":0.058},
{"k":13,"c":"C1","lo":0,"q1":0,"md":0,"q3":0.01,"hi":0.05},{"k":13,"c":"C2","lo":0,"q1":0.005,"md":0.045,"q3":0.088,"hi":0.18},
{"k":14,"c":"C1","lo":0,"q1":0,"md":0.018,"q3":0.12,"hi":0.185},{"k":14,"c":"C2","lo":0,"q1":0,"md":0.03,"q3":0.086,"hi":0.19},
{"k":15,"c":"C1","lo":0,"q1":0,"md":0,"q3":0.007,"hi":0.04},{"k":15,"c":"C2","lo":0,"q1":0,"md":0.022,"q3":0.056,"hi":0.095},
{"k":16,"c":"C1","lo":0,"q1":0,"md":0,"q3":0.003,"hi":0.008},{"k":16,"c":"C2","lo":0,"q1":0,"md":0.022,"q3":0.06,"hi":0.11},
{"k":17,"c":"C1","lo":0,"q1":0,"md":0,"q3":0.069,"hi":0.14},{"k":17,"c":"C2","lo":0,"q1":0,"md":0,"q3":0.001,"hi":0.001},
{"k":18,"c":"C1","lo":0,"q1":0,"md":0.016,"q3":0.042,"hi":0.095},{"k":18,"c":"C2","lo":0,"q1":0.023,"md":0.055,"q3":0.143,"hi":0.225},
{"k":19,"c":"C1","lo":0,"q1":0,"md":0,"q3":0.075,"hi":0.197},{"k":19,"c":"C2","lo":0,"q1":0,"md":0.007,"q3":0.084,"hi":0.188},
{"k":20,"c":"C1","lo":0,"q1":0,"md":0,"q3":0.039,"hi":0.058},{"k":20,"c":"C2","lo":0,"q1":0,"md":0,"q3":0.027,"hi":0.065},
{"k":21,"c":"C1","lo":0,"q1":0,"md":0.022,"q3":0.106,"hi":0.185},{"k":21,"c":"C2","lo":0,"q1":0,"md":0.01,"q3":0.046,"hi":0.11},
{"k":22,"c":"C1","lo":0,"q1":0,"md":0,"q3":0.048,"hi":0.105},{"k":22,"c":"C2","lo":0,"q1":0.046,"md":0.069,"q3":0.114,"hi":0.163}
  ],
  "starC": [{"k":3,"s":"*"},{"k":4,"s":"**"},{"k":6,"s":"*"},{"k":8,"s":"**"},{"k":13,"s":"***"},{"k":15,"s":"**"},{"k":16,"s":"***"},{"k":18,"s":"**"},{"k":22,"s":"**"}],
  "ptsC": [
{"k":1,"c":"C1","v":0},{"k":1,"c":"C1","v":0.01},{"k":1,"c":"C1","v":0.04},{"k":1,"c":"C1","v":0.058},{"k":1,"c":"C1","v":0.072},{"k":1,"c":"C1","v":0.135},{"k":1,"c":"C1","v":0.15},{"k":1,"c":"C1","v":0.18},{"k":1,"c":"C1","v":0.185},{"k":1,"c":"C1","v":0.21},{"k":1,"c":"C1","v":0.225},{"k":1,"c":"C1","v":0.23},{"k":1,"c":"C1","v":0.236},{"k":1,"c":"C1","v":0.495},
{"k":1,"c":"C2","v":0},{"k":1,"c":"C2","v":0.02},{"k":1,"c":"C2","v":0.097},{"k":1,"c":"C2","v":0.1},{"k":1,"c":"C2","v":0.17},{"k":1,"c":"C2","v":0.21},{"k":1,"c":"C2","v":0.26},{"k":1,"c":"C2","v":0.295},{"k":1,"c":"C2","v":0.3},{"k":1,"c":"C2","v":0.385},
{"k":2,"c":"C1","v":0},{"k":2,"c":"C1","v":0.01},{"k":2,"c":"C1","v":0.03},{"k":2,"c":"C1","v":0.04},{"k":2,"c":"C1","v":0.06},{"k":2,"c":"C1","v":0.075},{"k":2,"c":"C1","v":0.097},{"k":2,"c":"C1","v":0.224},
{"k":2,"c":"C2","v":0},{"k":2,"c":"C2","v":0.005},{"k":2,"c":"C2","v":0.02},{"k":2,"c":"C2","v":0.04},{"k":2,"c":"C2","v":0.06},{"k":2,"c":"C2","v":0.075},{"k":2,"c":"C2","v":0.09},{"k":2,"c":"C2","v":0.1},{"k":2,"c":"C2","v":0.115},{"k":2,"c":"C2","v":0.13},
{"k":3,"c":"C1","v":0},{"k":3,"c":"C1","v":0.06},{"k":3,"c":"C1","v":0.08},{"k":3,"c":"C1","v":0.09},{"k":3,"c":"C1","v":0.1},{"k":3,"c":"C1","v":0.108},{"k":3,"c":"C1","v":0.14},{"k":3,"c":"C1","v":0.17},{"k":3,"c":"C1","v":0.205},{"k":3,"c":"C1","v":0.305},
{"k":3,"c":"C2","v":0},{"k":3,"c":"C2","v":0.023},{"k":3,"c":"C2","v":0.05},{"k":3,"c":"C2","v":0.085},{"k":3,"c":"C2","v":0.1},{"k":3,"c":"C2","v":0.109},{"k":3,"c":"C2","v":0.12},{"k":3,"c":"C2","v":0.135},{"k":3,"c":"C2","v":0.141},{"k":3,"c":"C2","v":0.3},{"k":3,"c":"C2","v":0.313},{"k":3,"c":"C2","v":0.35},{"k":3,"c":"C2","v":0.41},{"k":3,"c":"C2","v":0.42},
{"k":4,"c":"C1","v":0},{"k":4,"c":"C1","v":0.01},{"k":4,"c":"C1","v":0.02},{"k":4,"c":"C1","v":0.055},{"k":4,"c":"C1","v":0.062},{"k":4,"c":"C1","v":0.065},{"k":4,"c":"C1","v":0.08},{"k":4,"c":"C1","v":0.13},{"k":4,"c":"C1","v":0.215},{"k":4,"c":"C1","v":0.22},{"k":4,"c":"C1","v":0.36},{"k":4,"c":"C1","v":0.375},
{"k":4,"c":"C2","v":0},{"k":4,"c":"C2","v":0.002},{"k":4,"c":"C2","v":0.05},{"k":4,"c":"C2","v":0.163},{"k":4,"c":"C2","v":0.215},
{"k":5,"c":"C1","v":0},{"k":5,"c":"C1","v":0.005},{"k":5,"c":"C1","v":0.05},{"k":5,"c":"C1","v":0.06},{"k":5,"c":"C1","v":0.075},{"k":5,"c":"C1","v":0.1},{"k":5,"c":"C1","v":0.125},{"k":5,"c":"C1","v":0.155},{"k":5,"c":"C1","v":0.178},{"k":5,"c":"C1","v":0.21},
{"k":5,"c":"C2","v":0},{"k":5,"c":"C2","v":0.005},{"k":5,"c":"C2","v":0.015},{"k":5,"c":"C2","v":0.022},{"k":5,"c":"C2","v":0.04},{"k":5,"c":"C2","v":0.06},{"k":5,"c":"C2","v":0.076},{"k":5,"c":"C2","v":0.095},{"k":5,"c":"C2","v":0.115},{"k":5,"c":"C2","v":0.13},{"k":5,"c":"C2","v":0.19},
{"k":6,"c":"C1","v":0},{"k":6,"c":"C1","v":0.07},{"k":6,"c":"C1","v":0.075},{"k":6,"c":"C1","v":0.08},{"k":6,"c":"C1","v":0.1},{"k":6,"c":"C1","v":0.13},{"k":6,"c":"C1","v":0.14},{"k":6,"c":"C1","v":0.169},{"k":6,"c":"C1","v":0.19},{"k":6,"c":"C1","v":0.2},{"k":6,"c":"C1","v":0.22},{"k":6,"c":"C1","v":0.24},{"k":6,"c":"C1","v":0.26},{"k":6,"c":"C1","v":0.283},
{"k":6,"c":"C2","v":0},{"k":6,"c":"C2","v":0.01},{"k":6,"c":"C2","v":0.085},{"k":6,"c":"C2","v":0.105},{"k":6,"c":"C2","v":0.17},{"k":6,"c":"C2","v":0.175},
{"k":7,"c":"C1","v":0},{"k":7,"c":"C1","v":0.01},{"k":7,"c":"C1","v":0.03},{"k":7,"c":"C1","v":0.045},{"k":7,"c":"C1","v":0.05},{"k":7,"c":"C1","v":0.06},{"k":7,"c":"C1","v":0.074},{"k":7,"c":"C1","v":0.09},{"k":7,"c":"C1","v":0.1},{"k":7,"c":"C1","v":0.115},{"k":7,"c":"C1","v":0.14},{"k":7,"c":"C1","v":0.165},{"k":7,"c":"C1","v":0.19},
{"k":7,"c":"C2","v":0},{"k":7,"c":"C2","v":0.008},{"k":7,"c":"C2","v":0.01},{"k":7,"c":"C2","v":0.04},{"k":7,"c":"C2","v":0.06},{"k":7,"c":"C2","v":0.078},{"k":7,"c":"C2","v":0.11},{"k":7,"c":"C2","v":0.14},{"k":7,"c":"C2","v":0.185},
{"k":8,"c":"C1","v":0},{"k":8,"c":"C1","v":0.005},{"k":8,"c":"C1","v":0.013},{"k":8,"c":"C1","v":0.03},{"k":8,"c":"C1","v":0.045},{"k":8,"c":"C1","v":0.055},{"k":8,"c":"C1","v":0.08},{"k":8,"c":"C1","v":0.11},{"k":8,"c":"C1","v":0.13},{"k":8,"c":"C1","v":0.145},{"k":8,"c":"C1","v":0.155},
{"k":8,"c":"C2","v":0},{"k":8,"c":"C2","v":0.02},{"k":8,"c":"C2","v":0.035},{"k":8,"c":"C2","v":0.05},{"k":8,"c":"C2","v":0.063},
{"k":9,"c":"C1","v":0},{"k":9,"c":"C1","v":0.02},{"k":9,"c":"C1","v":0.04},{"k":9,"c":"C1","v":0.06},{"k":9,"c":"C1","v":0.075},{"k":9,"c":"C1","v":0.1},{"k":9,"c":"C1","v":0.125},{"k":9,"c":"C1","v":0.155},
{"k":9,"c":"C2","v":0},{"k":9,"c":"C2","v":0.02},{"k":9,"c":"C2","v":0.041},{"k":9,"c":"C2","v":0.06},{"k":9,"c":"C2","v":0.13},{"k":9,"c":"C2","v":0.138},
{"k":10,"c":"C1","v":0},{"k":10,"c":"C1","v":0.013},{"k":10,"c":"C1","v":0.03},{"k":10,"c":"C1","v":0.05},{"k":10,"c":"C1","v":0.075},{"k":10,"c":"C1","v":0.09},{"k":10,"c":"C1","v":0.1},{"k":10,"c":"C1","v":0.13},{"k":10,"c":"C1","v":0.15},{"k":10,"c":"C1","v":0.165},{"k":10,"c":"C1","v":0.17},
{"k":10,"c":"C2","v":0},{"k":10,"c":"C2","v":0.02},{"k":10,"c":"C2","v":0.055},{"k":10,"c":"C2","v":0.07},{"k":10,"c":"C2","v":0.075},{"k":10,"c":"C2","v":0.09},{"k":10,"c":"C2","v":0.1},{"k":10,"c":"C2","v":0.2},
{"k":11,"c":"C1","v":0},{"k":11,"c":"C1","v":0.02},{"k":11,"c":"C1","v":0.05},{"k":11,"c":"C1","v":0.07},{"k":11,"c":"C1","v":0.095},{"k":11,"c":"C1","v":0.12},{"k":11,"c":"C1","v":0.15},{"k":11,"c":"C1","v":0.165},{"k":11,"c":"C1","v":0.293},{"k":11,"c":"C1","v":0.337},
{"k":11,"c":"C2","v":0},{"k":11,"c":"C2","v":0.01},{"k":11,"c":"C2","v":0.025},{"k":11,"c":"C2","v":0.035},{"k":11,"c":"C2","v":0.12},{"k":11,"c":"C2","v":0.175},{"k":11,"c":"C2","v":0.205},
{"k":12,"c":"C1","v":0},{"k":12,"c":"C1","v":0.005},{"k":12,"c":"C1","v":0.01},{"k":12,"c":"C1","v":0.02},{"k":12,"c":"C1","v":0.03},{"k":12,"c":"C1","v":0.035},{"k":12,"c":"C1","v":0.05},{"k":12,"c":"C1","v":0.065},{"k":12,"c":"C1","v":0.08},
{"k":12,"c":"C2","v":0},{"k":12,"c":"C2","v":0.005},{"k":12,"c":"C2","v":0.01},{"k":12,"c":"C2","v":0.02},{"k":12,"c":"C2","v":0.03},{"k":12,"c":"C2","v":0.038},{"k":12,"c":"C2","v":0.05},{"k":12,"c":"C2","v":0.058},{"k":12,"c":"C2","v":0.105},
{"k":13,"c":"C1","v":0},{"k":13,"c":"C1","v":0.005},{"k":13,"c":"C1","v":0.01},{"k":13,"c":"C1","v":0.02},{"k":13,"c":"C1","v":0.03},{"k":13,"c":"C1","v":0.04},{"k":13,"c":"C1","v":0.05},
{"k":13,"c":"C2","v":0},{"k":13,"c":"C2","v":0.005},{"k":13,"c":"C2","v":0.02},{"k":13,"c":"C2","v":0.045},{"k":13,"c":"C2","v":0.06},{"k":13,"c":"C2","v":0.088},{"k":13,"c":"C2","v":0.115},{"k":13,"c":"C2","v":0.14},{"k":13,"c":"C2","v":0.17},{"k":13,"c":"C2","v":0.18},{"k":13,"c":"C2","v":0.225},
{"k":14,"c":"C1","v":0},{"k":14,"c":"C1","v":0.01},{"k":14,"c":"C1","v":0.018},{"k":14,"c":"C1","v":0.04},{"k":14,"c":"C1","v":0.065},{"k":14,"c":"C1","v":0.085},{"k":14,"c":"C1","v":0.12},{"k":14,"c":"C1","v":0.14},{"k":14,"c":"C1","v":0.165},{"k":14,"c":"C1","v":0.185},{"k":14,"c":"C1","v":0.31},
{"k":14,"c":"C2","v":0},{"k":14,"c":"C2","v":0.02},{"k":14,"c":"C2","v":0.03},{"k":14,"c":"C2","v":0.04},{"k":14,"c":"C2","v":0.06},{"k":14,"c":"C2","v":0.086},{"k":14,"c":"C2","v":0.12},{"k":14,"c":"C2","v":0.15},{"k":14,"c":"C2","v":0.175},{"k":14,"c":"C2","v":0.19},{"k":14,"c":"C2","v":0.218},
{"k":15,"c":"C1","v":0},{"k":15,"c":"C1","v":0.007},{"k":15,"c":"C1","v":0.02},{"k":15,"c":"C1","v":0.04},{"k":15,"c":"C1","v":0.085},{"k":15,"c":"C1","v":0.186},
{"k":15,"c":"C2","v":0},{"k":15,"c":"C2","v":0.01},{"k":15,"c":"C2","v":0.022},{"k":15,"c":"C2","v":0.035},{"k":15,"c":"C2","v":0.056},{"k":15,"c":"C2","v":0.075},{"k":15,"c":"C2","v":0.095},{"k":15,"c":"C2","v":0.155},{"k":15,"c":"C2","v":0.34},
{"k":16,"c":"C1","v":0},{"k":16,"c":"C1","v":0.003},{"k":16,"c":"C1","v":0.03},{"k":16,"c":"C1","v":0.05},{"k":16,"c":"C1","v":0.08},
{"k":16,"c":"C2","v":0},{"k":16,"c":"C2","v":0.01},{"k":16,"c":"C2","v":0.022},{"k":16,"c":"C2","v":0.04},{"k":16,"c":"C2","v":0.06},{"k":16,"c":"C2","v":0.08},{"k":16,"c":"C2","v":0.1},{"k":16,"c":"C2","v":0.11},{"k":16,"c":"C2","v":0.305},
{"k":17,"c":"C1","v":0},{"k":17,"c":"C1","v":0.02},{"k":17,"c":"C1","v":0.05},{"k":17,"c":"C1","v":0.069},{"k":17,"c":"C1","v":0.09},{"k":17,"c":"C1","v":0.12},{"k":17,"c":"C1","v":0.135},{"k":17,"c":"C1","v":0.14},{"k":17,"c":"C1","v":0.188},
{"k":17,"c":"C2","v":0},{"k":17,"c":"C2","v":0.01},{"k":17,"c":"C2","v":0.02},{"k":17,"c":"C2","v":0.04},{"k":17,"c":"C2","v":0.055},{"k":17,"c":"C2","v":0.09},
{"k":18,"c":"C1","v":0},{"k":18,"c":"C1","v":0.005},{"k":18,"c":"C1","v":0.016},{"k":18,"c":"C1","v":0.03},{"k":18,"c":"C1","v":0.042},{"k":18,"c":"C1","v":0.06},{"k":18,"c":"C1","v":0.08},{"k":18,"c":"C1","v":0.095},{"k":18,"c":"C1","v":0.168},
{"k":18,"c":"C2","v":0},{"k":18,"c":"C2","v":0.023},{"k":18,"c":"C2","v":0.04},{"k":18,"c":"C2","v":0.055},{"k":18,"c":"C2","v":0.07},{"k":18,"c":"C2","v":0.1},{"k":18,"c":"C2","v":0.12},{"k":18,"c":"C2","v":0.143},{"k":18,"c":"C2","v":0.165},{"k":18,"c":"C2","v":0.185},{"k":18,"c":"C2","v":0.21},{"k":18,"c":"C2","v":0.225},
{"k":19,"c":"C1","v":0},{"k":19,"c":"C1","v":0.03},{"k":19,"c":"C1","v":0.055},{"k":19,"c":"C1","v":0.075},{"k":19,"c":"C1","v":0.1},{"k":19,"c":"C1","v":0.13},{"k":19,"c":"C1","v":0.16},{"k":19,"c":"C1","v":0.185},{"k":19,"c":"C1","v":0.197},
{"k":19,"c":"C2","v":0},{"k":19,"c":"C2","v":0.007},{"k":19,"c":"C2","v":0.02},{"k":19,"c":"C2","v":0.05},{"k":19,"c":"C2","v":0.084},{"k":19,"c":"C2","v":0.1},{"k":19,"c":"C2","v":0.125},{"k":19,"c":"C2","v":0.15},{"k":19,"c":"C2","v":0.17},{"k":19,"c":"C2","v":0.188},
{"k":20,"c":"C1","v":0},{"k":20,"c":"C1","v":0.01},{"k":20,"c":"C1","v":0.03},{"k":20,"c":"C1","v":0.039},{"k":20,"c":"C1","v":0.05},{"k":20,"c":"C1","v":0.058},{"k":20,"c":"C1","v":0.16},{"k":20,"c":"C1","v":0.22},
{"k":20,"c":"C2","v":0},{"k":20,"c":"C2","v":0.027},{"k":20,"c":"C2","v":0.065},{"k":20,"c":"C2","v":0.095},{"k":20,"c":"C2","v":0.19},
{"k":21,"c":"C1","v":0},{"k":21,"c":"C1","v":0.01},{"k":21,"c":"C1","v":0.022},{"k":21,"c":"C1","v":0.04},{"k":21,"c":"C1","v":0.07},{"k":21,"c":"C1","v":0.106},{"k":21,"c":"C1","v":0.13},{"k":21,"c":"C1","v":0.165},{"k":21,"c":"C1","v":0.175},{"k":21,"c":"C1","v":0.185},{"k":21,"c":"C1","v":0.338},
{"k":21,"c":"C2","v":0},{"k":21,"c":"C2","v":0.01},{"k":21,"c":"C2","v":0.02},{"k":21,"c":"C2","v":0.046},{"k":21,"c":"C2","v":0.07},{"k":21,"c":"C2","v":0.09},{"k":21,"c":"C2","v":0.11},
{"k":22,"c":"C1","v":0},{"k":22,"c":"C1","v":0.02},{"k":22,"c":"C1","v":0.048},{"k":22,"c":"C1","v":0.085},{"k":22,"c":"C1","v":0.105},{"k":22,"c":"C1","v":0.13},{"k":22,"c":"C1","v":0.265},
{"k":22,"c":"C2","v":0},{"k":22,"c":"C2","v":0.046},{"k":22,"c":"C2","v":0.06},{"k":22,"c":"C2","v":0.069},{"k":22,"c":"C2","v":0.085},{"k":22,"c":"C2","v":0.1},{"k":22,"c":"C2","v":0.114},{"k":22,"c":"C2","v":0.135},{"k":22,"c":"C2","v":0.163},{"k":22,"c":"C2","v":0.225},{"k":22,"c":"C2","v":0.275}
  ]
},
"columns": 1,
"align": "none",
"bounds": "full",
"spacing": 8.7,
"resolve": {"scale": {"color": "independent", "fill": "independent", "x": "independent", "y": "independent", "xOffset": "independent"}, "legend": {"color": "independent", "fill": "independent"}},
"concat": [
{
  "width": 554, "height": 278,
  "title": {"text": "A", "dx": -51, "dy": 29.5},
  "layer": [
    {"data": {"name": "boxA"}, "mark": {"type": "rule", "strokeWidth": 1.3},
     "encoding": {
       "x": {"field": "g", "type": "nominal", "scale": {"domain": ["IFIT3","SP140","GADD45B","MOV10","SMARCD3","JAK2","GADD45G","TDRD7","SETD6","PCGF5","LMNB1","SAP30","RSAD1","DTX3L","TLE2"], "paddingInner": 0, "paddingOuter": 0.1},
             "axis": {"title": "\u00a0", "titleFontSize": 10, "titlePadding": 3.5, "labelAngle": -60, "labelAlign": "right", "labelBaseline": "top", "labelFontSize": 12, "tickSize": 3, "labelPadding": 2}},
       "xOffset": {"field": "c", "type": "nominal", "scale": {"domain": ["C1","C2"], "paddingInner": 0, "paddingOuter": 0.25}},
       "y": {"field": "lo", "type": "quantitative", "scale": {"domain": [-3.19, 2.73], "nice": false, "zero": false},
             "axis": {"title": "Gene expression", "values": [-3,-2,-1,0,1,2], "titleFontSize": 13.5, "labelFontSize": 12.5, "tickSize": 3, "labelPadding": 2, "titlePadding": 11}},
       "y2": {"field": "q1"},
       "color": {"field": "c", "type": "nominal", "scale": {"domain": ["C1","C2"], "range": ["#3571F4","#FF0000"]}}
     }},
    {"data": {"name": "boxA"}, "mark": {"type": "rule", "strokeWidth": 1.3},
     "encoding": {
       "x": {"field": "g", "type": "nominal", "scale": {"domain": ["IFIT3","SP140","GADD45B","MOV10","SMARCD3","JAK2","GADD45G","TDRD7","SETD6","PCGF5","LMNB1","SAP30","RSAD1","DTX3L","TLE2"], "paddingInner": 0, "paddingOuter": 0.1}},
       "xOffset": {"field": "c", "type": "nominal", "scale": {"domain": ["C1","C2"], "paddingInner": 0, "paddingOuter": 0.25}},
       "y": {"field": "q3", "type": "quantitative"},
       "y2": {"field": "hi"},
       "color": {"field": "c", "type": "nominal"}
     }},
    {"data": {"name": "boxA"}, "mark": {"type": "bar", "filled": false, "fill": "white", "strokeWidth": 1.3, "width": {"band": 0.97}},
     "encoding": {
       "x": {"field": "g", "type": "nominal", "scale": {"domain": ["IFIT3","SP140","GADD45B","MOV10","SMARCD3","JAK2","GADD45G","TDRD7","SETD6","PCGF5","LMNB1","SAP30","RSAD1","DTX3L","TLE2"], "paddingInner": 0, "paddingOuter": 0.1}},
       "xOffset": {"field": "c", "type": "nominal", "scale": {"domain": ["C1","C2"], "paddingInner": 0, "paddingOuter": 0.25}},
       "y": {"field": "q1", "type": "quantitative"},
       "y2": {"field": "q3"},
       "color": {"field": "c", "type": "nominal"}
     }},
    {"data": {"name": "boxA"}, "mark": {"type": "tick", "size": 14, "thickness": 1.6, "opacity": 1},
     "encoding": {
       "x": {"field": "g", "type": "nominal", "scale": {"domain": ["IFIT3","SP140","GADD45B","MOV10","SMARCD3","JAK2","GADD45G","TDRD7","SETD6","PCGF5","LMNB1","SAP30","RSAD1","DTX3L","TLE2"], "paddingInner": 0, "paddingOuter": 0.1}},
       "xOffset": {"field": "c", "type": "nominal", "scale": {"domain": ["C1","C2"], "paddingInner": 0, "paddingOuter": 0.25}},
       "y": {"field": "md", "type": "quantitative"},
       "color": {"field": "c", "type": "nominal"}
     }},
    {"data": {"name": "ptsA"}, "mark": {"type": "point", "filled": true, "size": 15, "opacity": 1, "strokeWidth": 0},
     "encoding": {
       "x": {"field": "g", "type": "nominal", "scale": {"domain": ["IFIT3","SP140","GADD45B","MOV10","SMARCD3","JAK2","GADD45G","TDRD7","SETD6","PCGF5","LMNB1","SAP30","RSAD1","DTX3L","TLE2"], "paddingInner": 0, "paddingOuter": 0.1}},
       "xOffset": {"field": "c", "type": "nominal", "scale": {"domain": ["C1","C2"], "paddingInner": 0, "paddingOuter": 0.25}},
       "y": {"field": "v", "type": "quantitative"},
       "color": {"field": "c", "type": "nominal",
         "legend": {"title": "Cluster", "orient": "none", "legendX": 209, "legendY": -39.5, "direction": "horizontal", "titleOrient": "left", "titleFontSize": 14.5, "labelFontSize": 12.5, "symbolSize": 449, "symbolStrokeWidth": 0, "symbolOpacity": 1, "titlePadding": 6, "labelOffset": 6, "columnPadding": 12,
           "symbolType": "M-0.85,-0.38H0.85V0.38H-0.85Z M-0.75,-0.28V0.28H0.75V-0.28Z M-0.75,-0.05H0.75V0.05H-0.75Z M-0.05,-0.66H0.05V-0.38H-0.05Z M-0.05,0.38H0.05V0.66H-0.05Z M-0.24,0A0.24,0.24 0 1,1 0.24,0A0.24,0.24 0 1,1 -0.24,0Z"}}
     }},
    {"data": {"name": "starA"}, "mark": {"type": "text", "fontSize": 10, "color": "#222", "baseline": "middle"},
     "encoding": {
       "x": {"field": "g", "type": "nominal", "scale": {"domain": ["IFIT3","SP140","GADD45B","MOV10","SMARCD3","JAK2","GADD45G","TDRD7","SETD6","PCGF5","LMNB1","SAP30","RSAD1","DTX3L","TLE2"], "paddingInner": 0, "paddingOuter": 0.1}},
       "y": {"datum": 2.59, "type": "quantitative"},
       "text": {"field": "s"}
     }}
  ]
},
{
  "width": 457.4, "height": 255.4,
  "title": {"text": "B", "dx": -51, "dy": -8.3},
  "layer": [
    {"data": {"name": "comp"},
     "transform": [{"lookup": "k", "from": {"data": {"name": "cells"}, "key": "k", "fields": ["Cell"]}}],
     "mark": {"type": "bar", "stroke": "#3a3a3a", "strokeWidth": 0.5},
     "encoding": {
       "x": {"field": "s", "type": "nominal", "axis": null, "scale": {"paddingInner": 0.14, "paddingOuter": 1.011}},
       "y": {"field": "v", "type": "quantitative", "stack": "normalize", "scale": {"domain": [0, 1], "nice": false},
             "axis": {"title": "Relative Percent", "offset": 6.3, "values": [0,0.2,0.4,0.6,0.8,1], "format": ".0%", "labelFontSize": 12, "labelColor": "#333", "titleFontSize": 14, "tickSize": 3, "labelPadding": 1, "titlePadding": -10}},
       "order": {"field": "k", "type": "quantitative"},
       "fill": {"field": "Cell", "type": "nominal",
         "scale": {"domain": ["B cells naive","B cells memory","Plasma cells","T cells CD8","T cells CD4 naive","T cells CD4 memory resting","T cells CD4 memory activated","T cells follicular helper","T cells regulatory (Tregs)","T cells gamma delta","NK cells resting","NK cells activated","Monocytes","Macrophages M0","Macrophages M1","Macrophages M2","Dendritic cells resting","Dendritic cells activated","Mast cells resting","Mast cells activated","Eosinophils","Neutrophils"],
                   "range": ["#A3152E","#A43A27","#A6682A","#A0901E","#8FBA1F","#73CA1A","#5CE214","#4AF019","#3DEC2E","#40E652","#47E288","#4EE3AC","#3BA3C2","#2F78E2","#2455F0","#2534F6","#3629F2","#6427F2","#8B24F0","#A61FE8","#A21DB2","#A01A72"]},
         "legend": {"title": null, "orient": "none", "legendX": 460.5, "legendY": 10.2, "symbolType": "square", "symbolSize": 20, "symbolStrokeWidth": 0, "labelFontSize": 10, "rowPadding": 1.9, "labelOffset": 7, "labelColor": "#1a1a1a", "labelLimit": 300}}
     }},
    {"data": {"name": "grp"}, "mark": {"type": "rect", "stroke": "#000", "strokeWidth": 0.8},
     "encoding": {
       "x": {"field": "first", "type": "nominal", "bandPosition": 0, "axis": null, "scale": {"paddingInner": 0.14, "paddingOuter": 1.011}},
       "x2": {"field": "last", "bandPosition": 1},
       "y": {"datum": -0.0025, "type": "quantitative"},
       "y2": {"datum": -0.055},
       "color": {"field": "Cluster", "type": "nominal", "scale": {"domain": ["C1","C2"], "range": ["#66FF00","#FF0000"]}, "legend": null}
     }},
    {"data": {"name": "grp"}, "mark": {"type": "text", "fontSize": 15, "color": "#000", "baseline": "middle", "align": "center"},
     "encoding": {
       "x": {"field": "mid", "type": "nominal", "bandPosition": 1, "axis": null},
       "y": {"datum": -0.029, "type": "quantitative"},
       "text": {"field": "Cluster"}
     }}
  ]
},
{
  "width": 597, "height": 249,
  "title": {"text": "C", "dx": -51, "dy": 14},
  "layer": [
    {"data": {"name": "boxC"}, "transform": [{"lookup": "k", "from": {"data": {"name": "cells"}, "key": "k", "fields": ["Cell"]}}],
     "mark": {"type": "rule", "strokeWidth": 1.2},
     "encoding": {
       "x": {"field": "Cell", "type": "nominal", "scale": {"domain": ["B cells naive","B cells memory","Plasma cells","T cells CD8","T cells CD4 naive","T cells CD4 memory resting","T cells CD4 memory activated","T cells follicular helper","T cells regulatory (Tregs)","T cells gamma delta","NK cells resting","NK cells activated","Monocytes","Macrophages M0","Macrophages M1","Macrophages M2","Dendritic cells resting","Dendritic cells activated","Mast cells resting","Mast cells activated","Eosinophils","Neutrophils"], "paddingInner": 0, "paddingOuter": 0.366, "align": 0.87},
             "axis": {"title": null, "domain": false, "labelAngle": -45, "labelAlign": "right", "labelBaseline": "top", "labelFontSize": 12.5, "tickSize": 3, "labelPadding": 2, "labelLimit": 300}},
       "xOffset": {"field": "c", "type": "nominal", "scale": {"domain": ["C1","C2"], "paddingInner": 0, "paddingOuter": 0.25}},
       "y": {"field": "lo", "type": "quantitative", "scale": {"domain": [-0.0234, 0.5203], "nice": false, "zero": false},
             "axis": {"title": "Fraction", "offset": -14, "values": [0,0.1,0.2,0.3,0.4,0.5], "format": ".1f", "titleFontSize": 14, "labelFontSize": 13, "tickSize": 3, "labelPadding": 2, "titlePadding": 5}},
       "y2": {"field": "q1"},
       "color": {"field": "c", "type": "nominal", "scale": {"domain": ["C1","C2"], "range": ["#3571F4","#FF0000"]}}
     }},
    {"data": {"name": "boxC"}, "transform": [{"lookup": "k", "from": {"data": {"name": "cells"}, "key": "k", "fields": ["Cell"]}}],
     "mark": {"type": "rule", "strokeWidth": 1.2},
     "encoding": {
       "x": {"field": "Cell", "type": "nominal", "scale": {"domain": ["B cells naive","B cells memory","Plasma cells","T cells CD8","T cells CD4 naive","T cells CD4 memory resting","T cells CD4 memory activated","T cells follicular helper","T cells regulatory (Tregs)","T cells gamma delta","NK cells resting","NK cells activated","Monocytes","Macrophages M0","Macrophages M1","Macrophages M2","Dendritic cells resting","Dendritic cells activated","Mast cells resting","Mast cells activated","Eosinophils","Neutrophils"], "paddingInner": 0, "paddingOuter": 0.366, "align": 0.87}},
       "xOffset": {"field": "c", "type": "nominal", "scale": {"domain": ["C1","C2"], "paddingInner": 0, "paddingOuter": 0.25}},
       "y": {"field": "q3", "type": "quantitative"},
       "y2": {"field": "hi"},
       "color": {"field": "c", "type": "nominal"}
     }},
    {"data": {"name": "boxC"}, "transform": [{"lookup": "k", "from": {"data": {"name": "cells"}, "key": "k", "fields": ["Cell"]}}],
     "mark": {"type": "bar", "filled": false, "fill": "white", "strokeWidth": 1.2, "width": {"band": 0.97}},
     "encoding": {
       "x": {"field": "Cell", "type": "nominal", "scale": {"domain": ["B cells naive","B cells memory","Plasma cells","T cells CD8","T cells CD4 naive","T cells CD4 memory resting","T cells CD4 memory activated","T cells follicular helper","T cells regulatory (Tregs)","T cells gamma delta","NK cells resting","NK cells activated","Monocytes","Macrophages M0","Macrophages M1","Macrophages M2","Dendritic cells resting","Dendritic cells activated","Mast cells resting","Mast cells activated","Eosinophils","Neutrophils"], "paddingInner": 0, "paddingOuter": 0.366, "align": 0.87}},
       "xOffset": {"field": "c", "type": "nominal", "scale": {"domain": ["C1","C2"], "paddingInner": 0, "paddingOuter": 0.25}},
       "y": {"field": "q1", "type": "quantitative"},
       "y2": {"field": "q3"},
       "color": {"field": "c", "type": "nominal"}
     }},
    {"data": {"name": "boxC"}, "transform": [{"lookup": "k", "from": {"data": {"name": "cells"}, "key": "k", "fields": ["Cell"]}}],
     "mark": {"type": "tick", "size": 10, "thickness": 1.5, "opacity": 1},
     "encoding": {
       "x": {"field": "Cell", "type": "nominal", "scale": {"domain": ["B cells naive","B cells memory","Plasma cells","T cells CD8","T cells CD4 naive","T cells CD4 memory resting","T cells CD4 memory activated","T cells follicular helper","T cells regulatory (Tregs)","T cells gamma delta","NK cells resting","NK cells activated","Monocytes","Macrophages M0","Macrophages M1","Macrophages M2","Dendritic cells resting","Dendritic cells activated","Mast cells resting","Mast cells activated","Eosinophils","Neutrophils"], "paddingInner": 0, "paddingOuter": 0.366, "align": 0.87}},
       "xOffset": {"field": "c", "type": "nominal", "scale": {"domain": ["C1","C2"], "paddingInner": 0, "paddingOuter": 0.25}},
       "y": {"field": "md", "type": "quantitative"},
       "color": {"field": "c", "type": "nominal"}
     }},
    {"data": {"name": "ptsC"}, "transform": [{"lookup": "k", "from": {"data": {"name": "cells"}, "key": "k", "fields": ["Cell"]}}],
     "mark": {"type": "point", "filled": true, "size": 20, "opacity": 1, "strokeWidth": 0},
     "encoding": {
       "x": {"field": "Cell", "type": "nominal", "scale": {"domain": ["B cells naive","B cells memory","Plasma cells","T cells CD8","T cells CD4 naive","T cells CD4 memory resting","T cells CD4 memory activated","T cells follicular helper","T cells regulatory (Tregs)","T cells gamma delta","NK cells resting","NK cells activated","Monocytes","Macrophages M0","Macrophages M1","Macrophages M2","Dendritic cells resting","Dendritic cells activated","Mast cells resting","Mast cells activated","Eosinophils","Neutrophils"], "paddingInner": 0, "paddingOuter": 0.366, "align": 0.87}},
       "xOffset": {"field": "c", "type": "nominal", "scale": {"domain": ["C1","C2"], "paddingInner": 0, "paddingOuter": 0.25}},
       "y": {"field": "v", "type": "quantitative"},
       "color": {"field": "c", "type": "nominal",
         "legend": {"title": "Cluster", "orient": "none", "legendX": 235, "legendY": -37.5, "direction": "horizontal", "titleOrient": "left", "titleFontSize": 13, "labelFontSize": 12, "symbolSize": 310, "symbolStrokeWidth": 0, "symbolOpacity": 1, "titlePadding": 6, "labelOffset": 5, "columnPadding": 10,
           "symbolType": "M-0.85,-0.38H0.85V0.38H-0.85Z M-0.75,-0.28V0.28H0.75V-0.28Z M-0.75,-0.05H0.75V0.05H-0.75Z M-0.05,-0.66H0.05V-0.38H-0.05Z M-0.05,0.38H0.05V0.66H-0.05Z M-0.24,0A0.24,0.24 0 1,1 0.24,0A0.24,0.24 0 1,1 -0.24,0Z"}}
     }},
    {"data": {"name": "starC"}, "transform": [{"lookup": "k", "from": {"data": {"name": "cells"}, "key": "k", "fields": ["Cell"]}}],
     "mark": {"type": "text", "fontSize": 9, "color": "#333", "baseline": "middle", "dx": -3},
     "encoding": {
       "x": {"field": "Cell", "type": "nominal", "scale": {"domain": ["B cells naive","B cells memory","Plasma cells","T cells CD8","T cells CD4 naive","T cells CD4 memory resting","T cells CD4 memory activated","T cells follicular helper","T cells regulatory (Tregs)","T cells gamma delta","NK cells resting","NK cells activated","Monocytes","Macrophages M0","Macrophages M1","Macrophages M2","Dendritic cells resting","Dendritic cells activated","Mast cells resting","Mast cells activated","Eosinophils","Neutrophils"], "paddingInner": 0, "paddingOuter": 0.366, "align": 0.87}},
       "y": {"datum": 0.509, "type": "quantitative"},
       "text": {"field": "s"}
     }},
    {"data": {"name": "axisC"}, "mark": {"type": "rule", "color": "#000", "strokeWidth": 1},
     "encoding": {
       "x": {"field": "from", "type": "nominal", "bandPosition": -0.104, "scale": {"domain": ["B cells naive","B cells memory","Plasma cells","T cells CD8","T cells CD4 naive","T cells CD4 memory resting","T cells CD4 memory activated","T cells follicular helper","T cells regulatory (Tregs)","T cells gamma delta","NK cells resting","NK cells activated","Monocytes","Macrophages M0","Macrophages M1","Macrophages M2","Dendritic cells resting","Dendritic cells activated","Mast cells resting","Mast cells activated","Eosinophils","Neutrophils"], "paddingInner": 0, "paddingOuter": 0.366, "align": 0.87}},
       "x2": {"field": "to", "bandPosition": 1.0975},
       "y": {"datum": -0.0234, "type": "quantitative"}
     }}
  ]
}
]
}
